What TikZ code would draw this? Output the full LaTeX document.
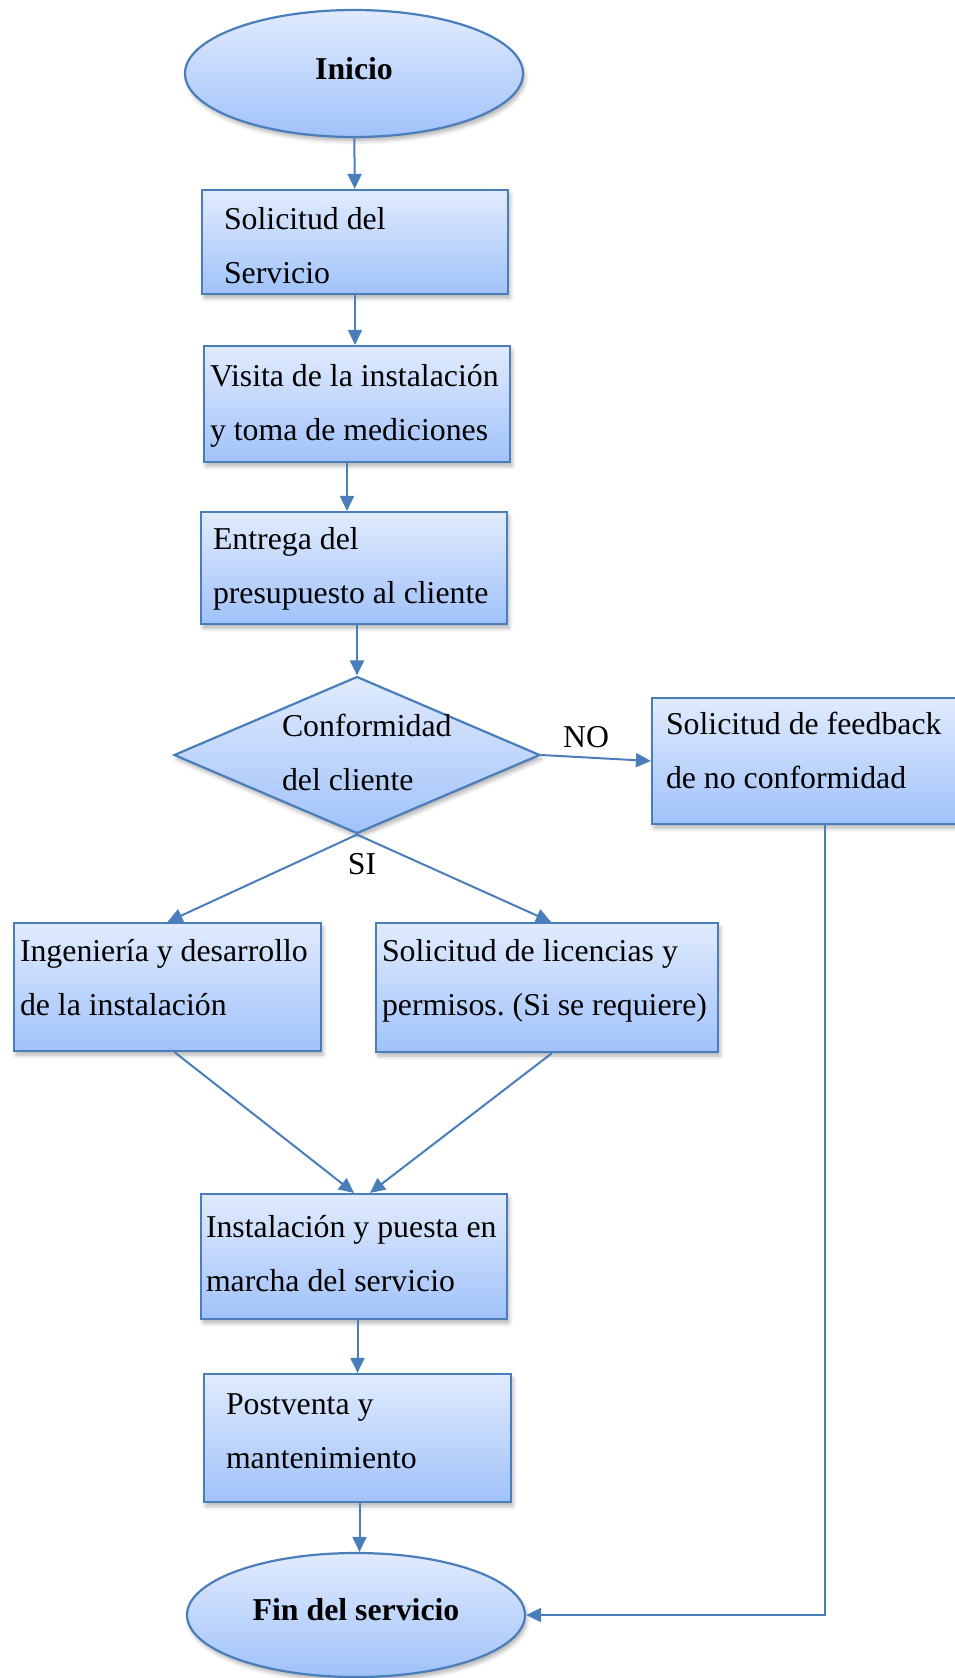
\documentclass[tikz,border=0pt]{standalone}
\usepackage{fontspec}
\setmainfont{Liberation Serif}
\usetikzlibrary{shapes.geometric,arrows.meta,shadows.blur}

\definecolor{flowline}{RGB}{74,126,187}
\definecolor{flowtop}{RGB}{225,235,253}
\definecolor{flowbot}{RGB}{160,194,250}
\newcommand{\flowfont}{\fontsize{31.8}{54}\selectfont}
\newcommand{\flowpar}{\raggedright\spaceskip=0.25em plus 0.08em minus 0.05em\xspaceskip=0.25em\relax}

\tikzset{every picture/.style={line width=2pt}}
\tikzset{
  flowfill/.style={draw=flowline, line width=2.2pt, top color=flowtop, bottom color=flowbot,
    blur shadow={shadow xshift=2pt, shadow yshift=-4pt, shadow blur radius=4pt, shadow opacity=30}},
  procbox/.style={flowfill, rectangle, inner ysep=0pt, font=\flowfont, text height=24pt,
    execute at begin node=\flowpar},
  termbox/.style={flowfill, ellipse, inner sep=0pt, minimum width=338pt, font=\flowfont\bfseries,
    text height=22pt, text depth=11pt},
  decbox/.style={flowfill, diamond, inner sep=0pt, minimum width=366pt, minimum height=157pt},
  flowarrow/.style={draw=flowline, line width=2pt, -{Triangle[length=15pt,width=14pt]}},
}

\begin{document}
\begin{tikzpicture}[x=1pt,y=1pt,yscale=-1,xscale=1]
    \useasboundingbox (0,0) rectangle (954,1678);

    %Shape: Ellipse
    \node[termbox, minimum height=127pt] (ini) at (354,73.5) {Inicio};
    %Shape: Rectangle
    \node[procbox, text width=262pt, inner xsep=22pt, minimum height=104pt, text depth=50pt] (sol) at (355,242) {Solicitud del\\Servicio};
    %Shape: Rectangle
    \node[procbox, text width=294pt, inner xsep=6pt, minimum height=116pt, text depth=59pt] (vis) at (357,404) {Visita de la instalación\\y toma de mediciones};
    %Shape: Rectangle
    \node[procbox, text width=282pt, inner xsep=12pt, minimum height=112pt, text depth=62pt] (ent) at (354,568) {Entrega del\\presupuesto al cliente};
    %Shape: Diamond
    \node[decbox] (conf) at (357,755) {};
    % Text Node
    \node[anchor=west, inner sep=0pt, text width=200pt, font=\flowfont, execute at begin node=\flowpar] (conftxt) at (281,752) {Conformidad\\del cliente};
    %Shape: Rectangle
    \node[procbox, text width=318pt, inner xsep=14pt, minimum height=126pt, text depth=77pt] (fb) at (825,761) {Solicitud de feedback\\de no conformidad};
    %Shape: Rectangle
    \node[procbox, text width=295pt, inner xsep=6pt, minimum height=128pt, text depth=75pt] (ing) at (167.5,987) {Ingeniería y desarrollo\\de la instalación};
    %Shape: Rectangle
    \node[procbox, text width=330pt, inner xsep=6pt, minimum height=129pt, text depth=76pt] (lic) at (547,987.5) {Solicitud de licencias y\\permisos. (Si se requiere)};
    %Shape: Rectangle
    \node[procbox, text width=296pt, inner xsep=5pt, minimum height=125pt, text depth=62pt] (ins) at (354,1256.5) {Instalación y puesta en\\marcha del servicio};
    %Shape: Rectangle
    \node[procbox, text width=263pt, inner xsep=22pt, minimum height=128pt, text depth=71pt] (pos) at (357.5,1438) {Postventa y\\mantenimiento};
    %Shape: Ellipse
    \node[termbox, minimum height=124pt] (fin) at (356,1615) {Fin del servicio};

    % Text Node
    \node[font=\flowfont] (no) at (586,737) {NO};
    % Text Node
    \node[font=\flowfont] (si) at (362,864) {SI};

    %Straight Lines
    \draw[flowarrow] (ini) -- (sol);
    \draw[flowarrow] (sol.south) -- (sol.south |- vis.north);
    \draw[flowarrow] ([xshift=-10pt]vis.south) -- ([xshift=-10pt]vis.south |- ent.north);
    \draw[flowarrow] (conf.north |- ent.south) -- (conf.north);
    \draw[flowarrow] (conf.east) -- (fb.west);
    \draw[flowarrow] (conf.south) -- (ing.north);
    \draw[flowarrow] (conf.south) -- ([xshift=4pt]lic.north);
    \draw[flowarrow] ([xshift=7pt]ing.south) -- (ins.north);
    \draw[flowarrow] ([xshift=5pt]lic.south) -- ([xshift=16pt]ins.north);
    \draw[flowarrow] (pos.north |- ins.south) -- (pos.north);
    \draw[flowarrow] ([xshift=2pt]pos.south) -- ([xshift=2pt]pos.south |- fin.north);
    \draw[flowarrow] (fb.south) |- (fin.east);
\end{tikzpicture}
\end{document}
